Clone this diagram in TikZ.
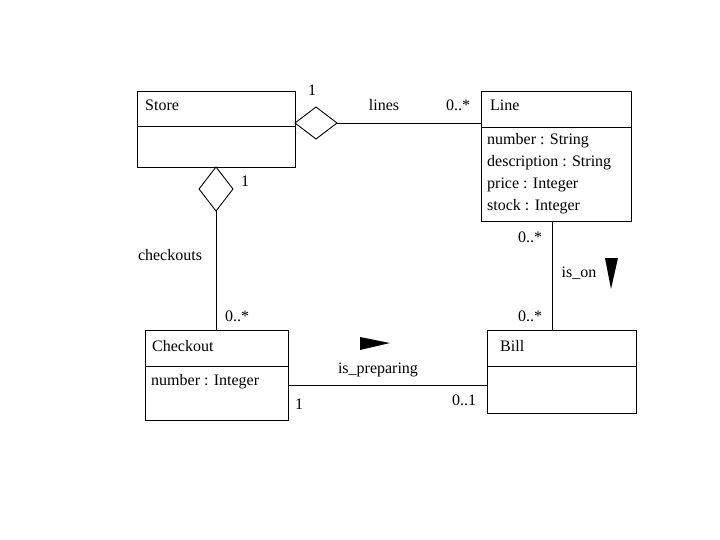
\documentclass[tikz,border=0pt]{standalone}
\usepackage{fontspec}
\setmainfont{Liberation Serif}
\usetikzlibrary{calc}

\begin{document}
\begin{tikzpicture}[x=1pt, y=-1pt,
            box/.style={draw, line width=0.9pt},
            lab/.style={font=\fontsize{16}{18}\selectfont, inner sep=0pt},
            txt/.style={lab, anchor=west}
            ]
        \useasboundingbox (0,0) rectangle (720,540);

        % classes
        \draw[box] (137,91) rectangle (295,167) (137,126) -- (295,126);
        \draw[box] (481,91) rectangle (631,221) (481,127) -- (631,127);
        \draw[box] (145,330) rectangle (288,420) (145,366) -- (288,366);
        \draw[box] (487,330) rectangle (636,413) (487,366) -- (636,366);

        \node[txt] (store) at (145,105) {Store};
        \node[txt] (line) at (490,105) {Line};
        \node[txt] (checkout) at (152,346) {Checkout};
        \node[txt] (bill) at (500,346) {Bill};
        \foreach \t [count=\i from 0] in {number : String, description : String,
                                          price : Integer, stock : Integer}
            \node[txt] (attr\i) at (487,141+22*\i) {\t};
        \node[txt] (cnum) at (151,382) {number : Integer};

        % diamonds
        \path coordinate (d1) at (316,123)
              coordinate (d2) at (216,189);
        \draw[box] (295,123) -- (316,107) -- (337,123) -- (316,139) -- cycle;
        \draw[box] (216,167) -- (233,189) -- (216,211) -- (199,189) -- cycle;

        % associations
        \draw[box] (337,123) -- (481,123);
        \draw[box] (216,211) -- (216,330);
        \draw[box] (288,385) -- (487,385);
        \draw[box] (552,221) -- (552,330);

        % direction marks
        \fill (360,337) -- (390,343) -- (360,350) -- cycle;
        \fill (605,258) -- (618,258) -- (611,289) -- cycle;

        % labels
        \node[lab] (m1) at (312,90) {1};
        \node[lab] (nlines) at (384,105) {lines};
        \node[lab] (m2) at (458,105) {0..*};
        \node[lab] (m3) at (245,181) {1};
        \node[lab] (nchk) at (170,255) {checkouts};
        \node[lab] (m4) at (237,316) {0..*};
        \node[lab] (m5) at (530,237) {0..*};
        \node[lab] (non) at (579,273) {is\_on};
        \node[lab] (m6) at (530,316) {0..*};
        \node[lab] (nprep) at (378,370) {is\_preparing};
        \node[lab] (m7) at (299,404) {1};
        \node[lab] (m8) at (464,400) {0..1};
    \end{tikzpicture}
\end{document}
